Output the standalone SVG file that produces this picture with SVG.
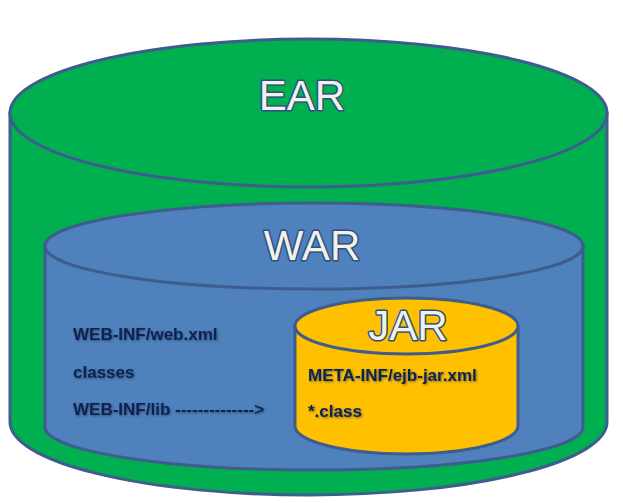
<svg xmlns="http://www.w3.org/2000/svg" width="623" height="503" viewBox="0 0 623 503">
<defs>
<filter id="sh" x="-10%" y="-20%" width="120%" height="140%">
<feDropShadow dx="1" dy="1" stdDeviation="0.8" flood-color="#1a2a50" flood-opacity="0.6"/>
</filter>
</defs>
<style>
.outline{stroke:#3e5d8e;stroke-width:3}
.ear{fill:#00b050}
.war{fill:#4f81bd}
.jar{fill:#ffc000}
.title{font-family:"Liberation Sans",Arial,sans-serif;fill:#f3f1e4;stroke:#2b4f86;stroke-width:3;paint-order:stroke;stroke-linejoin:round;text-anchor:middle}
.lbl{font-family:"Liberation Sans",Arial,sans-serif;font-weight:bold;font-size:17px;fill:#0e2350;filter:url(#sh)}
</style>
<rect width="623" height="503" fill="#ffffff"/>
<g id="ear">
<path class="ear outline" d="M10,113 L10,422 A298.5,73 0 0 0 607,422 L607,113 Z"/>
<ellipse class="ear outline" cx="308.5" cy="113" rx="298.5" ry="74"/>
<text class="title" x="302" y="110" font-size="42">EAR</text>
</g>
<g id="war">
<path class="war outline" d="M45,246 L45,427 A269,43 0 0 0 583,427 L583,246 Z"/>
<ellipse class="war outline" cx="314" cy="246" rx="269" ry="43"/>
<text class="title" x="312" y="260" font-size="42">WAR</text>
<text class="lbl" x="73" y="340">WEB-INF/web.xml</text>
<text class="lbl" x="73" y="378">classes</text>
<text class="lbl" x="73" y="415">WEB-INF/lib --------------&gt;</text>
</g>
<g id="jar">
<path class="jar outline" d="M295,326 L295,426 A111.5,28 0 0 0 518,426 L518,326 Z"/>
<ellipse class="jar outline" cx="406.5" cy="326" rx="111.5" ry="28"/>
<text class="title" x="408" y="340" font-size="42">JAR</text>
<text class="lbl" x="308" y="381">META-INF/ejb-jar.xml</text>
<text class="lbl" x="308" y="417">*.class</text>
</g>
<g id="connectors"></g>
</svg>
